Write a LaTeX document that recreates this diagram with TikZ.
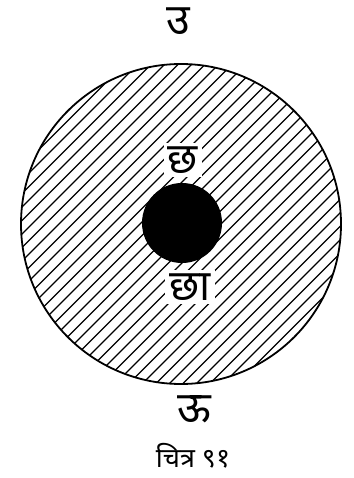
\documentclass[tikz,border=0pt]{standalone}
\usepackage{fontspec}
\newfontfamily\devfont[Script=Devanagari]{Noto Sans}
\usetikzlibrary{positioning}
\tikzset{
  line cap=round,
  line join=round,
  hatchline/.style={line width=1.1pt},
  ringline/.style={line width=1.8pt},
  devlabel/.style={font=\devfont\bfseries\fontsize{43}{43}\selectfont, inner sep=2pt},
  gaplabel/.style={devlabel, fill=white, inner sep=4pt},
  caption/.style={font=\devfont\bfseries\fontsize{27}{27}\selectfont, inner sep=1pt}
}
\begin{document}
\begin{tikzpicture}[x=1pt,y=-1pt]
	\useasboundingbox (0,0) rectangle (353,478);

	\coordinate (centerO) at (181,224);

	% hatch the disc
	\begin{scope}
		\clip (centerO) circle[radius=160pt];
		\foreach \d in {-338,-324.5,...,338}
			\draw[hatchline] ([shift={(\d-200,200)}]centerO) -- ([shift={(\d+200,-200)}]centerO);
	\end{scope}

	% outer circle and the black core
	\draw[ringline] (centerO) circle[radius=160pt];
	\fill ([shift={(1,-1)}]centerO) circle[radius=40pt];

	% Add labels
	\node[gaplabel] (chha) at (183,160) {छ};
	\node[gaplabel] (chhaa) at (190,287) {छा};
	\node[devlabel] (u) at (178,21) {उ};
	\node[devlabel] (uu) at (194,409) {ऊ};
	\node[caption] (fig) at (193,456) {चित्र ९१};
\end{tikzpicture}
\end{document}
